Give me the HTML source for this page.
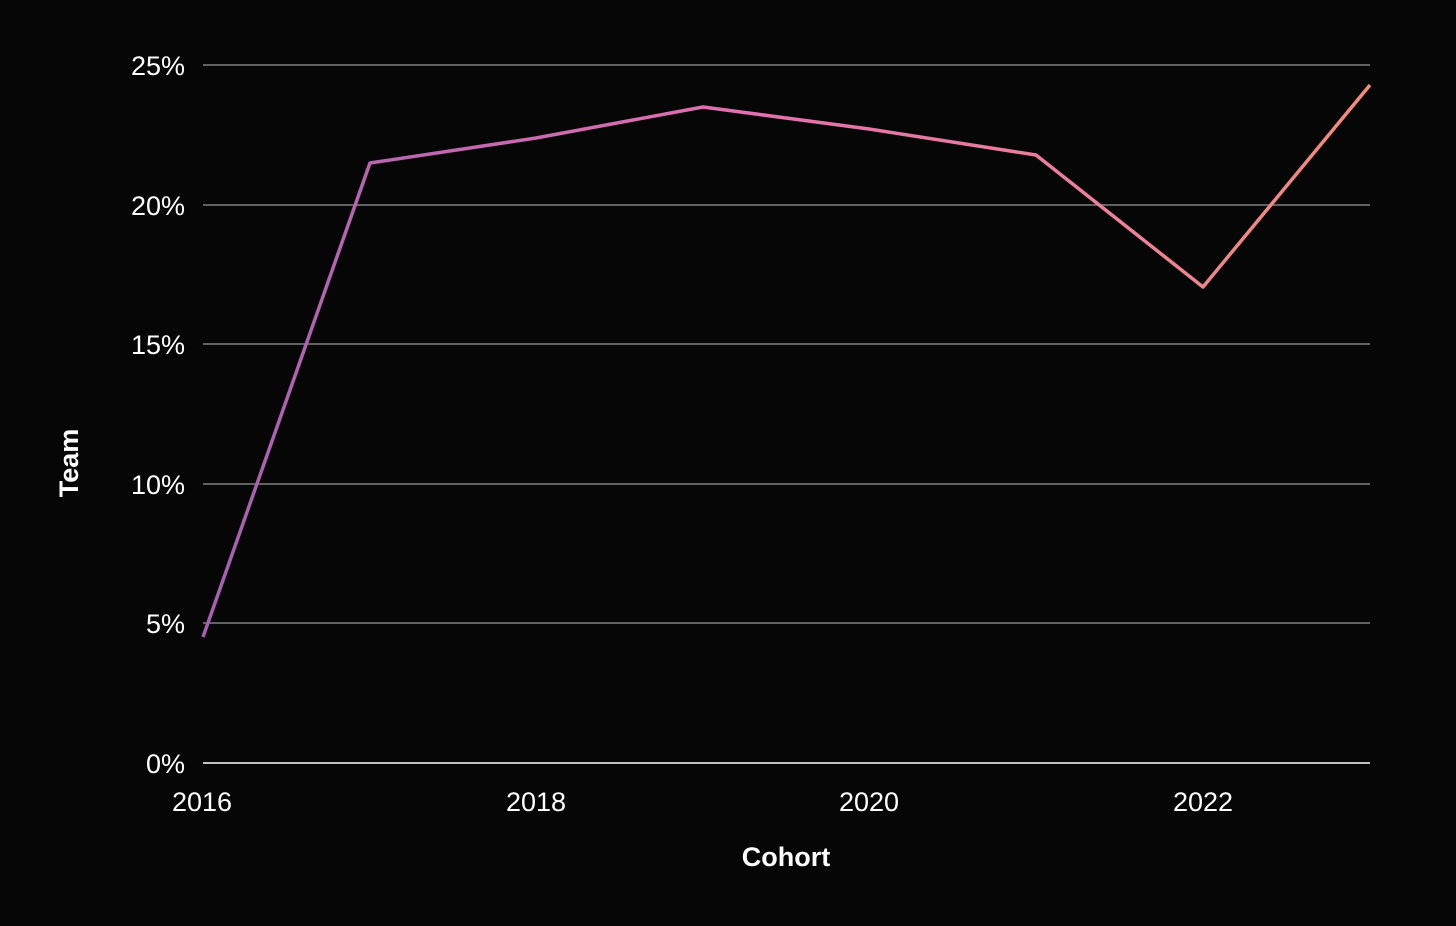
<!DOCTYPE html>
<html><head><style>
html,body{margin:0;padding:0;background:#060606;}
svg{display:block;}
text{font-family:"Liberation Sans",Arial,sans-serif;fill:#fff;}
</style></head><body>
<svg width="1456" height="926" viewBox="0 0 1456 926">
<defs>
<linearGradient id="g" x1="203" y1="0" x2="1370" y2="0" gradientUnits="userSpaceOnUse">
<stop offset="0" stop-color="#a460b0"/>
<stop offset="0.45" stop-color="#e070b0"/>
<stop offset="0.75" stop-color="#ec7f9a"/>
<stop offset="1" stop-color="#f28c78"/>
</linearGradient>
</defs>
<rect width="1456" height="926" fill="#060606"/>
<g stroke="#808080" stroke-width="1.5">
<line x1="203" y1="65" x2="1370" y2="65"/>
<line x1="203" y1="205" x2="1370" y2="205"/>
<line x1="203" y1="344" x2="1370" y2="344"/>
<line x1="203" y1="484" x2="1370" y2="484"/>
<line x1="203" y1="623" x2="1370" y2="623"/>
</g>
<line x1="203" y1="763" x2="1370" y2="763" stroke="#fff" stroke-width="1.5"/>
<g font-size="27" text-anchor="end">
<text x="185" y="75">25%</text>
<text x="185" y="215">20%</text>
<text x="185" y="354">15%</text>
<text x="185" y="494">10%</text>
<text x="185" y="633">5%</text>
<text x="185" y="773">0%</text>
</g>
<g font-size="27" text-anchor="middle">
<text x="202" y="811">2016</text>
<text x="536" y="811">2018</text>
<text x="869" y="811">2020</text>
<text x="1203" y="811">2022</text>
</g>
<text x="786" y="866" font-size="27" font-weight="bold" text-anchor="middle">Cohort</text>
<text transform="translate(78,463) rotate(-90)" font-size="27" font-weight="bold" text-anchor="middle">Team</text>
<polyline fill="none" stroke="url(#g)" stroke-width="3.5" stroke-linejoin="round"
points="203,637 370,163 536,138 703,107 869,129 1036,155 1203,287 1370,85"/>
</svg>
</body></html>
